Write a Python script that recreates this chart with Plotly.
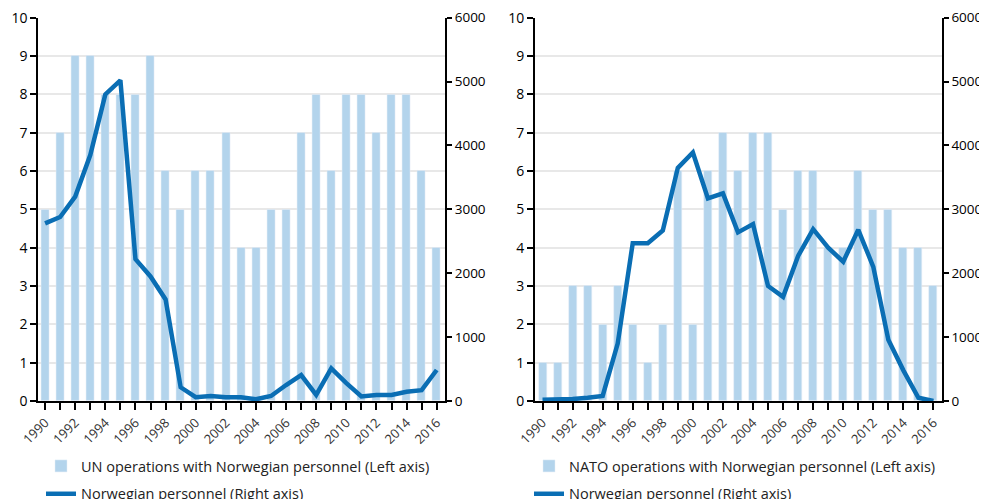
import plotly.graph_objects as go

years = list(range(1990, 2017))
un_ops = [5, 7, 9, 9, 8, 8, 8, 9, 6, 5, 6, 6, 7, 4, 4, 5, 5, 7, 8, 6, 8, 8, 7, 8, 8, 6, 4]
un_personnel = [2780, 2880, 3200, 3850, 4800, 5020, 2220, 1950, 1590, 215, 60, 80, 60, 60,
                27, 78, 250, 405, 95, 510, 280, 70, 95, 95, 145, 170, 485]
nato_ops = [1, 1, 3, 3, 2, 3, 2, 1, 2, 6, 2, 6, 7, 6, 7, 7, 5, 6, 6, 4, 4, 6, 5, 5, 4, 4, 3]
nato_personnel = [20, 20, 30, 50, 80, 900, 2470, 2470, 2670, 3650, 3890, 3170, 3250, 2640,
                  2770, 1800, 1630, 2270, 2690, 2400, 2180, 2680, 2100, 960, 480, 50, 0]
tick_labels = [str(y) if y % 2 == 0 else "" for y in years]

BAR = "#b3d4ec"
LINE = "#0a6eb4"
FONT = "Open Sans"

# page body has an 8px margin: figure pixel = screen pixel - 8
W, H = 979, 491
OFF = 8


def px_x(sx):
    return (sx - OFF) / W


def px_y(sy):
    return 1 - (sy - OFF) / H


fig = go.Figure()
fig.add_trace(go.Bar(x=years, y=un_ops, marker_color=BAR, width=0.53,
                     name="UN operations with Norwegian personnel (Left axis)",
                     xaxis="x", yaxis="y", legend="legend", legendgroup="a"))
fig.add_trace(go.Scatter(x=years, y=un_personnel, mode="lines", line=dict(color=LINE, width=4.5),
                         name="Norwegian personnel (Right axis)",
                         xaxis="x", yaxis="y2", legend="legend", legendgroup="b"))
fig.add_trace(go.Bar(x=years, y=nato_ops, marker_color=BAR, width=0.53,
                     name="NATO operations with Norwegian personnel (Left axis)",
                     xaxis="x2", yaxis="y3", legend="legend2", legendgroup="c"))
fig.add_trace(go.Scatter(x=years, y=nato_personnel, mode="lines", line=dict(color=LINE, width=4.5),
                         name="Norwegian personnel (Right axis)",
                         xaxis="x2", yaxis="y4", legend="legend2", legendgroup="d"))

ydom = [px_y(401), px_y(17.7)]

xcommon = dict(tickmode="array", tickvals=years, ticktext=tick_labels, tickangle=-45,
               showline=True, linecolor="black", linewidth=2, ticks="outside", ticklen=7,
               tickwidth=2, tickcolor="black", showgrid=False, zeroline=False,
               ticklabeloverflow="allow",
               tickfont=dict(family=FONT, size=13, color="#333333"))
yleft = dict(range=[0, 10], dtick=1, showline=True, linecolor="black", linewidth=2,
             ticks="outside", ticklen=6, tickwidth=2, tickcolor="black",
             showgrid=True, gridcolor="#e8e8e8", gridwidth=1.5, zeroline=False,
             ticklabeloverflow="allow",
             tickfont=dict(family=FONT, size=14, color="black"), domain=ydom)
yright = dict(range=[0, 6000], dtick=1000, showline=True, linecolor="black", linewidth=2,
              ticks="outside", ticklen=5, tickwidth=2, tickcolor="black", side="right",
              showgrid=False, zeroline=False, ticklabeloverflow="allow",
              tickfont=dict(family=FONT, size=13.5, color="black"))

legfont = dict(family=FONT, size=14.5, color="#222222")

fig.update_layout(
    width=W, height=H,
    margin=dict(l=0, r=0, t=0, b=0, autoexpand=False),
    paper_bgcolor="white", plot_bgcolor="white",
    bargap=0,
    xaxis=dict(domain=[px_x(38.3), px_x(445)], range=[1989.55, 2016.55], anchor="y", **xcommon),
    xaxis2=dict(domain=[px_x(535), px_x(941.7)], range=[1989.5, 2016.55], anchor="y3", **xcommon),
    yaxis=dict(anchor="x", **yleft),
    yaxis2=dict(anchor="x", overlaying="y", **yright),
    yaxis3=dict(anchor="x2", **yleft),
    yaxis4=dict(anchor="x2", overlaying="y3", **yright),
    legend=dict(x=px_x(41), y=px_y(450), xanchor="left", yanchor="top",
                traceorder="grouped", tracegroupgap=6,
                font=legfont, bgcolor="rgba(0,0,0,0)"),
    legend2=dict(x=px_x(529), y=px_y(450), xanchor="left", yanchor="top",
                 traceorder="grouped", tracegroupgap=6,
                 font=legfont, bgcolor="rgba(0,0,0,0)"),
    showlegend=True,
)

fig.write_html("out.html")
